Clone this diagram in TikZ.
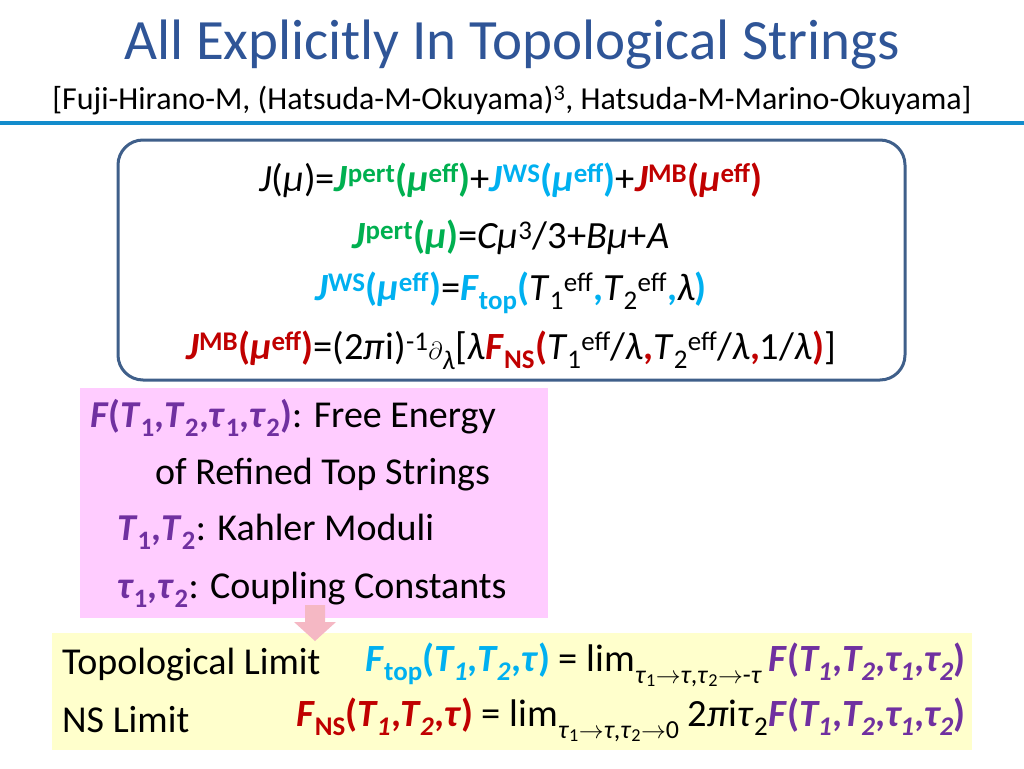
\documentclass[tikz,border=0pt]{standalone}
\usepackage{fontspec}
\setmainfont{Carlito}
\definecolor{ttl}{HTML}{2F5597}
\definecolor{eqg}{HTML}{00B050}
\definecolor{eqc}{HTML}{00B0F0}
\definecolor{eqr}{HTML}{C00000}
\definecolor{eqp}{HTML}{7030A0}
\definecolor{pinkbg}{HTML}{FFCCFF}
\definecolor{yelbg}{HTML}{FFFFCC}
\definecolor{boxb}{HTML}{3F5F8A}
\definecolor{arrpink}{HTML}{F5B8C4}
\newcommand\Gr[1]{\textcolor{eqg}{\bfseries #1}}
\newcommand\Cy[1]{\textcolor{eqc}{\bfseries #1}}
\newcommand\Rd[1]{\textcolor{eqr}{\bfseries #1}}
\newcommand\Pu[1]{\textcolor{eqp}{\bfseries #1}}
\newcommand\I[1]{\textit{#1}}
\newcommand\sps[1]{\textsuperscript{#1}}
\newcommand\sbs[1]{\textsubscript{#1}}
\newcommand\lsb[1]{\raisebox{-0.3em}{\fontsize{26}{28}\selectfont #1}}
\begin{document}
\begin{tikzpicture}[x=1pt,y=-1pt,
  eq/.style={font=\fontsize{38.5}{42}\selectfont, inner sep=0pt},
  txt/.style={font=\fontsize{38}{42}\selectfont, inner sep=0pt, anchor=west}]
\useasboundingbox (0,0) rectangle (1024,768);
\node[font=\fontsize{57}{60}\selectfont, text=ttl] (title) at (512,45) {All Explicitly In Topological Strings};
\node[font=\fontsize{32}{36}\selectfont] (sub) at (512,100) {[Fuji-Hirano-M, (Hatsuda-M-Okuyama)\sps{3}, Hatsuda-M-Marino-Okuyama]};
\draw[line width=4pt, color=eqc!60!ttl] (0,123) -- (1024,123);
\node[draw=boxb, line width=3pt, rounded corners=25pt, minimum width=787pt, minimum height=240pt, fill=white] (box) at (511.5,260) {};
\node[eq] (e1) at (511,180) {\I{J}(\I{μ})=\Gr{\I{J}\sps{pert}(\I{μ}\sps{eff})}+\Cy{\I{J}\sps{WS}(\I{μ}\sps{eff})}+\Rd{\I{J}\sps{MB}(\I{μ}\sps{eff})}};
\node[eq] (e2) at (511,237) {\Gr{\I{J}\sps{pert}(\I{μ})}=\I{Cμ}\sps{3}/3+\I{Bμ}+\I{A}};
\node[eq] (e3) at (511,293) {\Cy{\I{J}\sps{WS}(\I{μ}\sps{eff})}=\Cy{\I{F}\sbs{top}(}\I{T}\sbs{1}\sps{eff}\Cy{,}\I{T}\sbs{2}\sps{eff}\Cy{,}\I{λ}\Cy{)}};
\node[eq] (e4) at (511,350) {\Rd{\I{J}\sps{MB}(\I{μ}\sps{eff})}=(2\I{π}i)\sps{-1}$\partial$\sbs{\I{λ}}[\I{λ}\Rd{\I{F}\sbs{NS}(}\I{T}\sbs{1}\sps{eff}/\I{λ}\Rd{,}\I{T}\sbs{2}\sps{eff}/\I{λ}\Rd{,}1/\I{λ}\Rd{)}]};
\fill[pinkbg] (80,388) rectangle (548,618);
\node[txt] (p1) at (90,418) {\Pu{\I{F}(\I{T}\sbs{1},\I{T}\sbs{2},\I{τ}\sbs{1},\I{τ}\sbs{2})}: Free Energy};
\node[txt] (p2) at (155,475) {of Refined Top Strings};
\node[txt] (p3) at (117,532) {\Pu{\I{T}\sbs{1},\I{T}\sbs{2}}: Kahler Moduli};
\node[txt] (p4) at (117,590) {\Pu{\I{τ}\sbs{1},\I{τ}\sbs{2}}: Coupling Constants};
\fill[yelbg] (52,633) rectangle (972,750);
\fill[arrpink] (305,605) -- (325,605) -- (325,622) -- (336,622) -- (315,641) -- (294,622) -- (305,622) -- cycle;
\node[txt] (t1) at (62,665) {Topological Limit};
\node[txt] (t2) at (62,720) {NS Limit};
\node[eq, anchor=east] (f1) at (966,665) {\Cy{\I{F}\sbs{top}(\I{T\sbs{1}},\I{T\sbs{2}},\I{τ})} = lim\lsb{\I{τ}\sbs{1}$\to$\I{τ},\I{τ}\sbs{2}$\to$-\I{τ}}\,\Pu{\I{F}(\I{T\sbs{1}},\I{T\sbs{2}},\I{τ\sbs{1}},\I{τ\sbs{2}})}};
\node[eq, anchor=east] (f2) at (966,720) {\Rd{\I{F}\sbs{NS}(\I{T\sbs{1}},\I{T\sbs{2}},\I{τ})} = lim\lsb{\I{τ}\sbs{1}$\to$\I{τ},\I{τ}\sbs{2}$\to$0} 2\I{π}i\I{τ}\sbs{2}\Pu{\I{F}(\I{T\sbs{1}},\I{T\sbs{2}},\I{τ\sbs{1}},\I{τ\sbs{2}})}};
\end{tikzpicture}
\end{document}
